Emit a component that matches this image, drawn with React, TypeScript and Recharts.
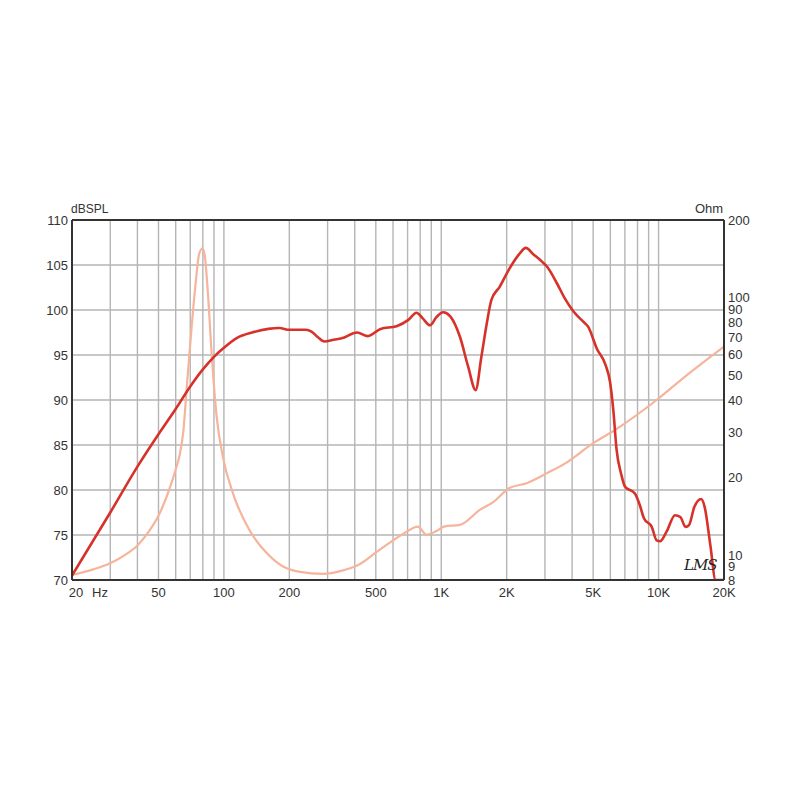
import React from "react";
import {
    LineChart,
    Line,
    XAxis,
    YAxis,
    CartesianGrid,
    ReferenceLine,
} from "recharts";

// SPL response (dB)
const splFreq = [
    20, 30, 40, 50, 60, 70, 80, 90, 100, 115, 135, 160, 180, 200, 238,
    253, 270, 290, 320, 348, 410, 460, 526, 623, 706, 770, 820, 888, 950, 1020,
    1100, 1220, 1330, 1440, 1530, 1620, 1700, 1860, 2060, 2300, 2450, 2650,
    2900, 3070, 3400, 3720, 4070, 4500, 4740, 5200, 5700, 5980, 6200, 6400,
    6740, 7000, 7780, 8200, 8550, 9300, 9800, 10160, 10900, 11900, 12600,
    13300, 13800, 14600, 15700, 16300, 17300, 18300, 20000,
];
const splDb = [
    70.5, 77.5, 82.6, 86.2, 89.0, 91.5, 93.4, 94.8, 95.8, 96.9, 97.5, 97.9,
    98.0, 97.8, 97.8, 97.6, 97.0, 96.5, 96.7, 96.85, 97.5, 97.1,
    97.9, 98.2, 98.9, 99.7, 99.1, 98.3, 99.2, 99.75, 99.3, 97.0, 93.7, 91.1,
    94.8, 98.5, 101.1, 102.6, 104.6, 106.3, 106.9, 106.2, 105.4, 104.8, 103.0,
    101.2, 99.8, 98.7, 98.15, 95.7, 93.9, 92.0, 88.7, 84.6, 81.7, 80.4, 79.6,
    78.3, 76.9, 75.9, 74.4, 74.3, 75.4, 77.2, 77.0, 75.9, 76.1, 78.1, 79.0,
    78.1, 73.9, 70, 70,
];

// impedance (Ohm)
const impFreq = [
    20, 25, 30, 35, 40, 45, 50, 55, 60, 62.6, 65, 67.5, 70.2, 73.6, 77, 79.6,
    81.4, 84.2, 88, 92.6, 99, 110, 131, 157, 188, 224, 286, 350, 410, 522, 670,
    781, 855, 950, 1030, 1220, 1510, 1740, 2060, 2470, 3070, 3720, 5000, 6300,
    9800, 13500, 20000,
];
const impOhm = [
    8.37, 8.8, 9.3, 10.0, 10.9, 12.3, 14.2, 17.2, 21.5, 24.5, 30, 45, 68, 107,
    148, 155, 148, 107, 59, 34.5, 24, 17.4, 12.5, 10.2, 9.0, 8.6, 8.45, 8.7,
    9.1, 10.5, 12.1, 12.9, 12.0, 12.4, 12.9, 13.1, 15.0, 16.1, 18.2, 19.0,
    20.8, 22.7, 27.2, 30.6, 40, 50, 64.5,
];

const freqTicks = [20, 50, 100, 200, 500, 1000, 2000, 5000, 10000, 20000];
const freqLabels = ["20", "50", "100", "200", "500", "1K", "2K", "5K", "10K", "20K"];
const gridFreqs = [
    30, 40, 50, 60, 70, 80, 90, 100, 200, 300, 400, 500, 600, 700, 800, 900,
    1000, 2000, 3000, 4000, 5000, 6000, 7000, 8000, 9000, 10000,
];
const dbTicks = [70, 75, 80, 85, 90, 95, 100, 105, 110];
const ohmTicks = [8, 9, 10, 20, 30, 40, 50, 60, 70, 80, 90, 100, 200];

const splData = splFreq.map((f, i) => ({ f, spl: splDb[i] }));
const impData = impFreq.map((f, i) => ({ f, imp: impOhm[i] }));

const FONT = "Arial, 'Liberation Sans', Helvetica, sans-serif";
const TEXT = "#333";

const FreqTick = (props: any) => {
    const { x, y, payload } = props;
    const idx = freqTicks.indexOf(payload.value);
    const label = idx >= 0 ? freqLabels[idx] : String(payload.value);
    if (payload.value === 20) {
        return (
            <g>
                <text x={x + 4} y={y} dy="0.71em" textAnchor="middle" fontSize={13} fill={TEXT} fontFamily={FONT}>
                    {label}
                </text>
                <text x={x + 28} y={y} dy="0.71em" textAnchor="middle" fontSize={13} fill={TEXT} fontFamily={FONT}>
                    Hz
                </text>
            </g>
        );
    }
    return (
        <text x={x} y={y} dy="0.71em" textAnchor="middle" fontSize={13} fill={TEXT} fontFamily={FONT}>
            {label}
        </text>
    );
};

export default function App() {
    const tickStyle = { fontSize: 13, fill: TEXT, fontFamily: FONT };
    return (
        <div style={{ position: "absolute", left: 0, top: 0, width: 800, height: 800, background: "#fff" }}>
            <LineChart
                width={800}
                height={800}
                margin={{ top: 220, right: 36, bottom: 190, left: 32 }}
            >
                <CartesianGrid vertical={false} stroke="#b5b5b5" strokeWidth={1.4} yAxisId="left" />
                {gridFreqs.map((f) => (
                    <ReferenceLine key={f} x={f} yAxisId="left" stroke="#b5b5b5" strokeWidth={1.4} />
                ))}
                <ReferenceLine y={110} yAxisId="left" stroke="#333" strokeWidth={2} />
                <XAxis
                    dataKey="f"
                    type="number"
                    scale="log"
                    domain={[20, 20000]}
                    ticks={freqTicks}
                    interval={0}
                    allowDataOverflow
                    height={30}
                    tickLine={false}
                    tickSize={8}
                    tickMargin={0}
                    tick={<FreqTick />}
                    axisLine={{ stroke: "#333", strokeWidth: 2 }}
                />
                <YAxis
                    yAxisId="left"
                    orientation="left"
                    type="number"
                    domain={[70, 110]}
                    ticks={dbTicks}
                    interval={0}
                    width={40}
                    tickLine={false}
                    tickSize={4}
                    tickMargin={0}
                    tick={tickStyle}
                    axisLine={{ stroke: "#333", strokeWidth: 2 }}
                    allowDataOverflow
                />
                <YAxis
                    yAxisId="right"
                    orientation="right"
                    type="number"
                    scale="log"
                    domain={[8, 200]}
                    ticks={ohmTicks}
                    interval={0}
                    width={40}
                    tickLine={false}
                    tickSize={4}
                    tickMargin={0}
                    tick={tickStyle}
                    axisLine={{ stroke: "#333", strokeWidth: 2 }}
                    allowDataOverflow
                />
                <Line
                    data={impData}
                    yAxisId="right"
                    dataKey="imp"
                    type="monotone"
                    stroke="#f5b49b"
                    strokeWidth={2.2}
                    dot={false}
                    isAnimationActive={false}
                />
                <Line
                    data={splData}
                    yAxisId="left"
                    dataKey="spl"
                    type="monotone"
                    stroke="#d6322a"
                    strokeWidth={2.6}
                    dot={false}
                    isAnimationActive={false}
                />
            </LineChart>
            <div style={{ position: "absolute", left: 71, top: 202, fontSize: 12, color: TEXT, fontFamily: FONT }}>
                dBSPL
            </div>
            <div style={{ position: "absolute", left: 695, top: 201, fontSize: 13, color: TEXT, fontFamily: FONT }}>
                Ohm
            </div>
            <div
                style={{
                    position: "absolute",
                    left: 684,
                    top: 556,
                    fontSize: 15,
                    color: "#222",
                    fontFamily: "'DejaVu Serif', serif",
                    fontStyle: "italic",
                    letterSpacing: -1,
                }}
            >
                LMS
            </div>
        </div>
    );
}
